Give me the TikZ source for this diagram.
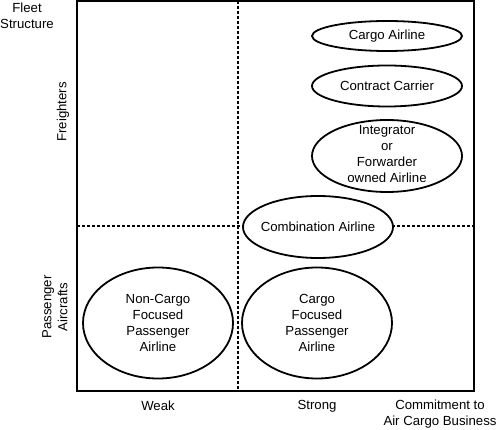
\documentclass[tikz,border=0pt]{standalone}
\usepackage{fontspec}
\setmainfont{Liberation Sans}
\usetikzlibrary{shapes.geometric}
\begin{document}
\begin{tikzpicture}[x=1pt,y=-1pt,
  lbl/.style={font=\fontsize{13.2}{16}\selectfont, align=center, inner sep=0pt},
  oval/.style={draw, line width=1.8pt, ellipse, inner sep=0pt},
  divider/.style={line width=1.9pt, dash pattern=on 3pt off 2pt}]
\useasboundingbox (0,0) rectangle (498,430);
\coordinate (tl) at (77,1);
\coordinate (br) at (474,391);
\coordinate (vt) at (238,1);
\coordinate (vb) at (238,391);
\coordinate (hl) at (77,226);
\coordinate (hr) at (474,226);
\draw[divider] (vt) -- (vb);
\draw[divider] (hl) -- (hr);
\draw[line width=2.4pt] (tl) rectangle (br);
% ellipses
\node[oval, fill=white, minimum width=150pt, minimum height=30pt] (cargo) at (387,36) {};
\node[lbl] (cargot) at (387,36) {Cargo Airline};
\node[oval, fill=white, minimum width=150pt, minimum height=41pt] (contract) at (387,86) {};
\node[lbl] (contractt) at (387,86) {Contract Carrier};
\node[oval, fill=white, minimum width=150pt, minimum height=72pt] (integ) at (387,156) {};
\node[lbl] (integt) at (387,154) {Integrator\\or\\Forwarder\\owned Airline};
\node[oval, fill=white, minimum width=150pt, minimum height=62pt] (comb) at (318,227) {};
\node[lbl] (combt) at (318,227) {Combination Airline};
\node[oval, fill=white, minimum width=150pt, minimum height=111pt] (noncargo) at (158,323) {};
\node[lbl] (noncargot) at (158,323) {Non-Cargo\\Focused\\Passenger\\Airline};
\node[oval, fill=white, minimum width=150pt, minimum height=111pt] (cfocused) at (317,323) {};
\node[lbl] (cfocusedt) at (317,323) {Cargo\\Focused\\Passenger\\Airline};
% axis labels
\node[lbl] (fleet) at (27,16) {Fleet\\Structure};
\node[lbl, rotate=90] (freighters) at (63,112) {Freighters};
\node[lbl, rotate=90] (passenger) at (55,307) {Passenger\\Aircrafts};
\node[lbl] (weak) at (158,406) {Weak};
\node[lbl] (strong) at (317,406) {Strong};
\node[lbl] (commit) at (440,414) {Commitment to\\Air Cargo Business};
\end{tikzpicture}
\end{document}
